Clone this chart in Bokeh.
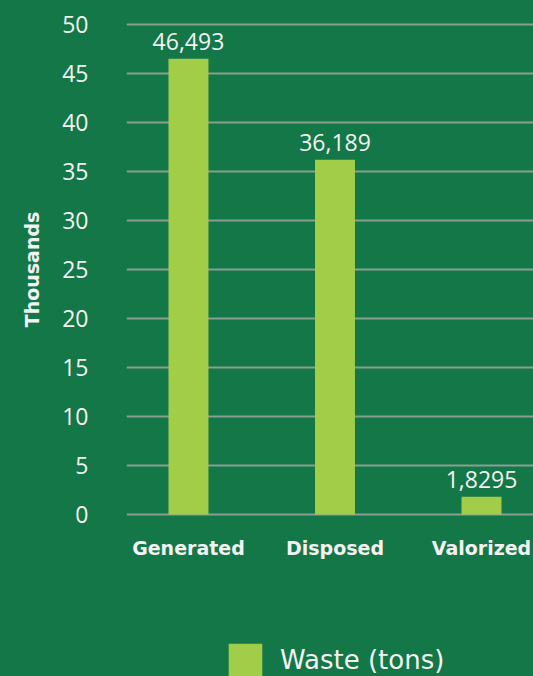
from bokeh.plotting import figure
from bokeh.layouts import column
from bokeh.models import (ColumnDataSource, FixedTicker, Legend, LegendItem,
                          LabelSet, Range1d)
from bokeh.core.properties import value
from bokeh.embed import file_html
from bokeh.resources import INLINE

# Waste figures, in thousands of tons
categories = ["Generated", "Disposed", "Valorized"]
waste = [46.493, 36.189, 1.8295]
value_labels = ["46,493", "36,189", "1,8295"]
y_ticks = [0, 5, 10, 15, 20, 25, 30, 35, 40, 45, 50]

BG = "#137747"
BAR = "#a2cd48"
GRID = "#8a9e92"
TEXT = "#f2f2f2"

xpos = list(range(len(categories)))
source = ColumnDataSource(dict(x=xpos, val=waste, lab=value_labels))

p = figure(
    width=533, height=630,
    x_range=Range1d(-0.423, 2.355),
    y_range=Range1d(-0.3, 50.3),
    output_backend="svg", toolbar_location=None,
    background_fill_color=None, border_fill_color=BG,
    min_border_left=126, min_border_right=0, min_border_top=21, min_border_bottom=113,
    outline_line_color=None,
)

bars = p.vbar(x="x", top="val", width=0.273, source=source,
              fill_color=BAR, line_color=None)

p.add_layout(LabelSet(x="x", y="val", text="lab", source=source,
                      text_align="center", text_baseline="alphabetic", y_offset=9,
                      text_color=TEXT, text_font=value("Open Sans"),
                      text_font_size=value("23px")))

# y axis
p.yaxis.ticker = FixedTicker(ticks=y_ticks)
p.yaxis.axis_line_color = None
p.yaxis.major_tick_line_color = None
p.yaxis.minor_tick_line_color = None
p.yaxis.major_label_text_color = TEXT
p.yaxis.major_label_text_font = "Open Sans"
p.yaxis.major_label_text_font_size = "23px"
p.yaxis.major_label_standoff = 32
p.yaxis.axis_label = "Thousands"
p.yaxis.axis_label_text_color = TEXT
p.yaxis.axis_label_text_font = "DejaVu Sans"
p.yaxis.axis_label_text_font_style = "bold"
p.yaxis.axis_label_text_font_size = "19px"
p.yaxis.axis_label_standoff = 16

# x axis: one tick per category
p.xaxis.ticker = FixedTicker(ticks=xpos)
p.xaxis.major_label_overrides = {i: c for i, c in zip(xpos, categories)}
p.xaxis.axis_line_color = None
p.xaxis.major_tick_line_color = None
p.xaxis.minor_tick_line_color = None
p.xaxis.major_label_text_color = TEXT
p.xaxis.major_label_text_font = "DejaVu Sans"
p.xaxis.major_label_text_font_style = "bold"
p.xaxis.major_label_text_font_size = "19px"
p.xaxis.major_label_standoff = 13

p.xgrid.grid_line_color = None
p.ygrid.grid_line_color = GRID
p.ygrid.grid_line_width = 2

# legend strip under the chart; its key renderer shares the bar data but
# has zero width and lies outside the strip's range, so only the key shows
lf = figure(
    width=533, height=46, x_range=Range1d(100, 101), y_range=Range1d(100, 101),
    output_backend="svg", toolbar_location=None,
    x_axis_type=None, y_axis_type=None,
    background_fill_color=BG, border_fill_color=BG, outline_line_color=None,
    min_border_left=0, min_border_right=0, min_border_top=0, min_border_bottom=0,
)
lf.xgrid.grid_line_color = None
lf.ygrid.grid_line_color = None
key = lf.vbar(x="x", top="val", width=0, source=source,
              fill_color=BAR, line_color=None)

legend = Legend(items=[LegendItem(label="Waste (tons)", renderers=[key])],
                orientation="horizontal", location=(98, -5),
                glyph_width=42, glyph_height=42, label_standoff=14,
                label_text_color=TEXT, label_text_font="DejaVu Sans",
                label_text_font_size="26px",
                background_fill_alpha=0, border_line_color=None,
                padding=0, margin=0, spacing=0)
lf.add_layout(legend, "center")

layout = column(p, lf, spacing=0)
layout.styles = {"background-color": BG}

open("out.html", "w").write(file_html(layout, INLINE))
